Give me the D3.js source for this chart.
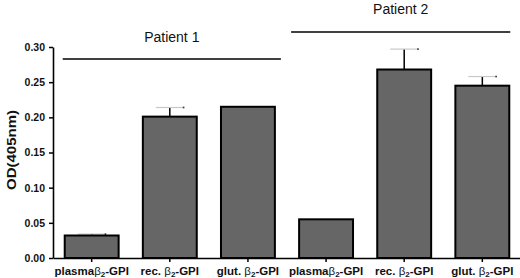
<!DOCTYPE html>
<html><head><meta charset="utf-8">
<script src="https://cdn.jsdelivr.net/npm/d3@7"></script>
<style>body{margin:0;background:#fff}svg{display:block}</style>
</head><body>
<svg id="c" width="520" height="278"></svg>
<script>
const categories = ["plasma", "rec. ", "glut. ", "plasma", "rec. ", "glut. "];
const ids = ["p1a", "p1b", "p1c", "p2a", "p2b", "p2c"];
const values = [0.032, 0.201, 0.215, 0.055, 0.268, 0.245];
const errors = [0.002, 0.013, 0.000, 0.000, 0.029, 0.013];
const yTicks = [0, 0.05, 0.10, 0.15, 0.20, 0.25, 0.30];
const groups = [{name: "Patient 1", from: 0, to: 2}, {name: "Patient 2", from: 3, to: 5}];

const svg = d3.select("#c");
const font = "Arial, 'Liberation Sans', sans-serif";
const x = d3.scaleBand().domain(ids).range([53, 521]).paddingInner(0.31).paddingOuter(0.15);
const y = d3.scaleLinear().domain([0, 0.30]).range([258, 47]);

// y axis
const ya = svg.append("g").attr("transform", "translate(53,0)")
  .call(d3.axisLeft(y).tickValues(yTicks).tickFormat(d3.format(".2f")).tickSize(4).tickSizeOuter(0));
ya.select(".domain").attr("stroke", "#000").attr("stroke-width", 1.6);
ya.selectAll(".tick line").attr("stroke", "#000").attr("stroke-width", 1.5);
ya.selectAll(".tick text").attr("font-family", font).attr("font-weight", "bold").attr("font-size", 10.5).attr("fill", "#111").attr("dx", -1);

// x axis
const xa = svg.append("g").attr("transform", "translate(0,258)")
  .call(d3.axisBottom(x).tickSize(4).tickSizeOuter(0).tickFormat(""));
xa.select(".domain").attr("stroke", "#000").attr("stroke-width", 1.6);
xa.selectAll(".tick line").attr("stroke", "#000").attr("stroke-width", 1.5);

// x labels with beta subscript
ids.forEach((id, i) => {
  const t = svg.append("text").attr("x", x(id) + x.bandwidth() / 2).attr("y", 274.5)
    .attr("text-anchor", "middle").attr("font-family", font).attr("font-size", 11.5).attr("fill", "#111");
  t.append("tspan").attr("font-weight", "bold").text(categories[i]);
  t.append("tspan").attr("font-weight", "normal").text("β");
  t.append("tspan").attr("font-weight", "bold").attr("font-size", 8).attr("dy", 2).text("2");
  t.append("tspan").attr("font-weight", "bold").attr("dy", -2).text("-GPI");
});

// error bars (behind bars)
ids.forEach((id, i) => {
  if (errors[i] <= 0) return;
  const cx = x(id) + x.bandwidth() / 2;
  svg.append("line").attr("x1", cx).attr("x2", cx).attr("y1", y(values[i])).attr("y2", y(values[i] + errors[i]))
    .attr("stroke", "#000").attr("stroke-width", 1.5);
  svg.append("line").attr("x1", cx - 14).attr("x2", cx + 14).attr("y1", y(values[i] + errors[i])).attr("y2", y(values[i] + errors[i]))
    .attr("stroke", "#c8c8c8").attr("stroke-width", 1.2);
  svg.append("rect").attr("x", cx + 13).attr("y", y(values[i] + errors[i]) - 0.8).attr("width", 1.6).attr("height", 1.6).attr("fill", "#333");
});

// bars
svg.selectAll("rect.bar").data(values).enter().append("rect").attr("class", "bar")
  .attr("x", (d, i) => x(ids[i])).attr("width", x.bandwidth())
  .attr("y", d => y(d)).attr("height", d => y(0) - y(d))
  .attr("fill", "#666666").attr("stroke", "#000").attr("stroke-width", 2);

// y label
svg.append("text").attr("transform", "translate(16,150) rotate(-90)").attr("text-anchor", "middle")
  .attr("font-family", font).attr("font-weight", "bold").attr("font-size", 12.5).attr("fill", "#111")
  .attr("textLength", 80).attr("lengthAdjust", "spacingAndGlyphs").text("OD(405nm)");

// patient group lines
const lineYs = [59, 32];
const labelYs = [42, 14];
const padL = [2, 8], padR = [6, 1];
groups.forEach((g, k) => {
  const x0 = x(ids[g.from]) - padL[k];
  const x1 = x(ids[g.to]) + x.bandwidth() + padR[k];
  svg.append("line").attr("x1", x0).attr("x2", x1).attr("y1", lineYs[k]).attr("y2", lineYs[k]).attr("stroke", "#000").attr("stroke-width", 1.5);
  svg.append("text").attr("x", (x0 + x1) / 2).attr("y", labelYs[k]).attr("text-anchor", "middle")
    .attr("font-family", font).attr("font-size", 14).attr("fill", "#111").text(g.name);
});
</script>
</body></html>
